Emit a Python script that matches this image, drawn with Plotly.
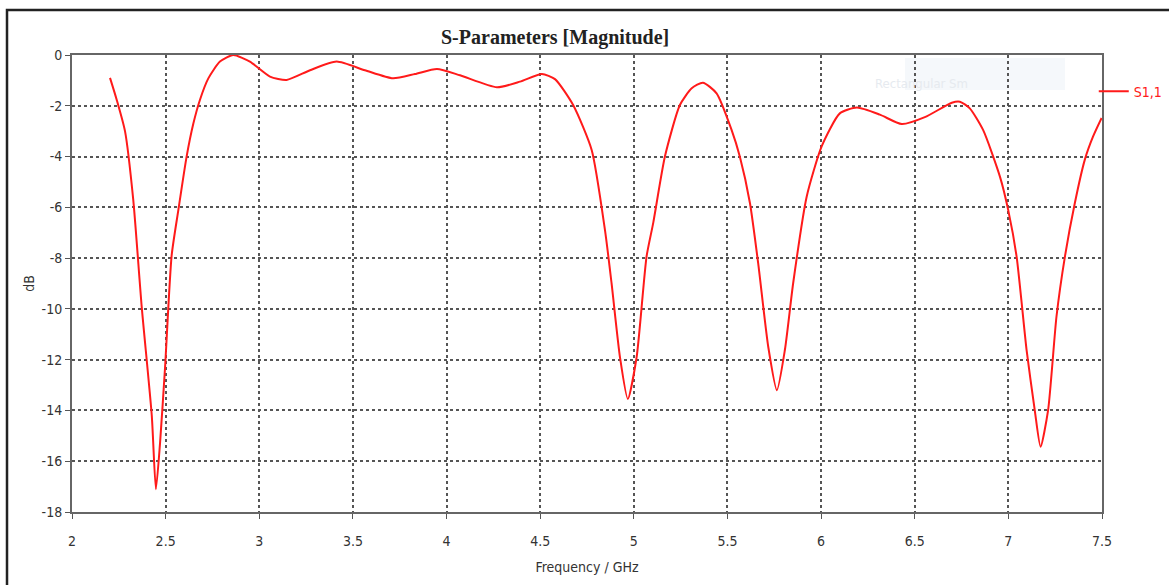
import plotly.graph_objects as go

freq_ghz = [2.203, 2.239, 2.283, 2.327, 2.372, 2.426, 2.448, 2.470, 2.497, 2.532,
            2.568, 2.612, 2.648, 2.683, 2.728, 2.790, 2.861, 2.950, 3.057, 3.146,
            3.271, 3.413, 3.564, 3.714, 3.831, 3.949, 4.072, 4.269, 4.392, 4.509,
            4.579, 4.676, 4.775, 4.846, 4.881, 4.926, 4.968, 5.015, 5.068, 5.104,
            5.166, 5.246, 5.309, 5.369, 5.442, 5.522, 5.566, 5.620, 5.664, 5.718,
            5.764, 5.807, 5.851, 5.923, 6.003, 6.100, 6.191, 6.314, 6.431, 6.554,
            6.698, 6.741, 6.794, 6.865, 6.955, 6.999, 7.044, 7.097, 7.141, 7.172,
            7.212, 7.257, 7.302, 7.355, 7.408, 7.453, 7.498]
s11_db = [-0.9, -1.77, -3.0, -5.7, -9.9, -14.2, -17.1, -15.3, -12.3, -7.9,
          -6.1, -4.0, -2.7, -1.77, -0.92, -0.26, 0.0, -0.26, -0.85, -0.98,
          -0.6, -0.26, -0.6, -0.92, -0.75, -0.55, -0.8, -1.27, -1.05, -0.75,
          -0.95, -1.97, -3.74, -6.9, -8.98, -11.9, -13.55, -11.9, -7.94, -6.6,
          -4.0, -1.97, -1.31, -1.09, -1.51, -2.95, -4.0, -5.83, -8.2, -11.5,
          -13.2, -11.6, -8.98, -5.58, -3.6, -2.3, -2.07, -2.35, -2.72, -2.45,
          -1.88, -1.84, -2.1, -2.95, -4.79, -6.1, -7.94, -11.6, -14.0, -15.43,
          -14.0, -10.3, -7.94, -5.83, -4.13, -3.2, -2.48]

x_ticks = [2, 2.5, 3, 3.5, 4, 4.5, 5, 5.5, 6, 6.5, 7, 7.5]
x_tick_text = ["2", "2.5", "3", "3.5", "4", "4.5", "5", "5.5", "6", "6.5", "7", "7.5"]
y_ticks = [0, -2, -4, -6, -8, -10, -12, -14, -16, -18]
y_tick_text = ["0", "-2", "-4", "-6", "-8", "-10", "-12", "-14", "-16", "-18"]

narrow = "DejaVu Sans Condensed, Liberation Sans Narrow, Arial Narrow, sans-serif"
tick_font = dict(family=narrow, size=14, color="#333333")

fig = go.Figure()
fig.add_trace(go.Scatter(
    x=freq_ghz, y=s11_db, mode="lines", name="S1,1",
    line=dict(color="#ff1a1a", width=2, shape="spline", smoothing=0.6),
))

fig.update_layout(
    width=1169, height=585,
    margin=dict(l=72, r=67, t=55, b=73, autoexpand=False),
    paper_bgcolor="white", plot_bgcolor="white",
    showlegend=True,
    legend=dict(x=0.992, y=0.955, xanchor="left", yanchor="top",
                font=dict(family=narrow, size=14, color="#ff1a1a"),
                bgcolor="rgba(0,0,0,0)", itemwidth=30),
    xaxis=dict(range=[2, 7.5], tickvals=x_ticks, ticktext=x_tick_text,
               showgrid=True, gridcolor="#555555", griddash="dot", gridwidth=1.5,
               showline=True, linecolor="#666666", linewidth=2, mirror=True,
               ticks="outside", ticklen=5, tickcolor="#555555", tickfont=tick_font,
               ticklabelstandoff=10,
               zeroline=False,
               title=dict(text="Frequency / GHz", standoff=14,
                          font=dict(family=narrow, size=14, color="#333333"))),
    yaxis=dict(range=[-18, 0], tickvals=y_ticks, ticktext=y_tick_text,
               showgrid=True, gridcolor="#555555", griddash="dot", gridwidth=1.5,
               showline=True, linecolor="#666666", linewidth=2, mirror=True,
               ticks="outside", ticklen=5, tickcolor="#555555", tickfont=tick_font,
               zeroline=False,
               title=dict(text="dB", standoff=4,
                          font=dict(family=narrow, size=14, color="#333333"))),
)

# Outer frame
fig.add_shape(type="rect", xref="paper", yref="paper",
              x0=-0.0631, x1=1.2, y0=-0.3, y1=1.0985,
              line=dict(color="#222222", width=2.5), layer="below")
# faint watermark box
fig.add_shape(type="rect", xref="paper", yref="paper",
              x0=(905 - 72) / 1030, x1=(1065 - 72) / 1030,
              y0=(512 - 90) / 457, y1=(512 - 58) / 457,
              line=dict(width=0), fillcolor="#f5f8fb", layer="below")
fig.add_annotation(text="Rectangular Sm", xref="paper", yref="paper",
                   x=(970 - 72) / 1030, y=(512 - 74) / 457, showarrow=False,
                   font=dict(family=narrow, size=13, color="#e6eaef"))
# Title
fig.add_annotation(text="<b>S-Parameters [Magnitude]</b>", xref="paper", yref="paper",
                   x=(555 - 72) / 1030, y=(512 - 24) / 457, showarrow=False,
                   font=dict(family="Liberation Serif, Times New Roman, serif", size=20, color="#222222"))

fig.write_html("out.html")
